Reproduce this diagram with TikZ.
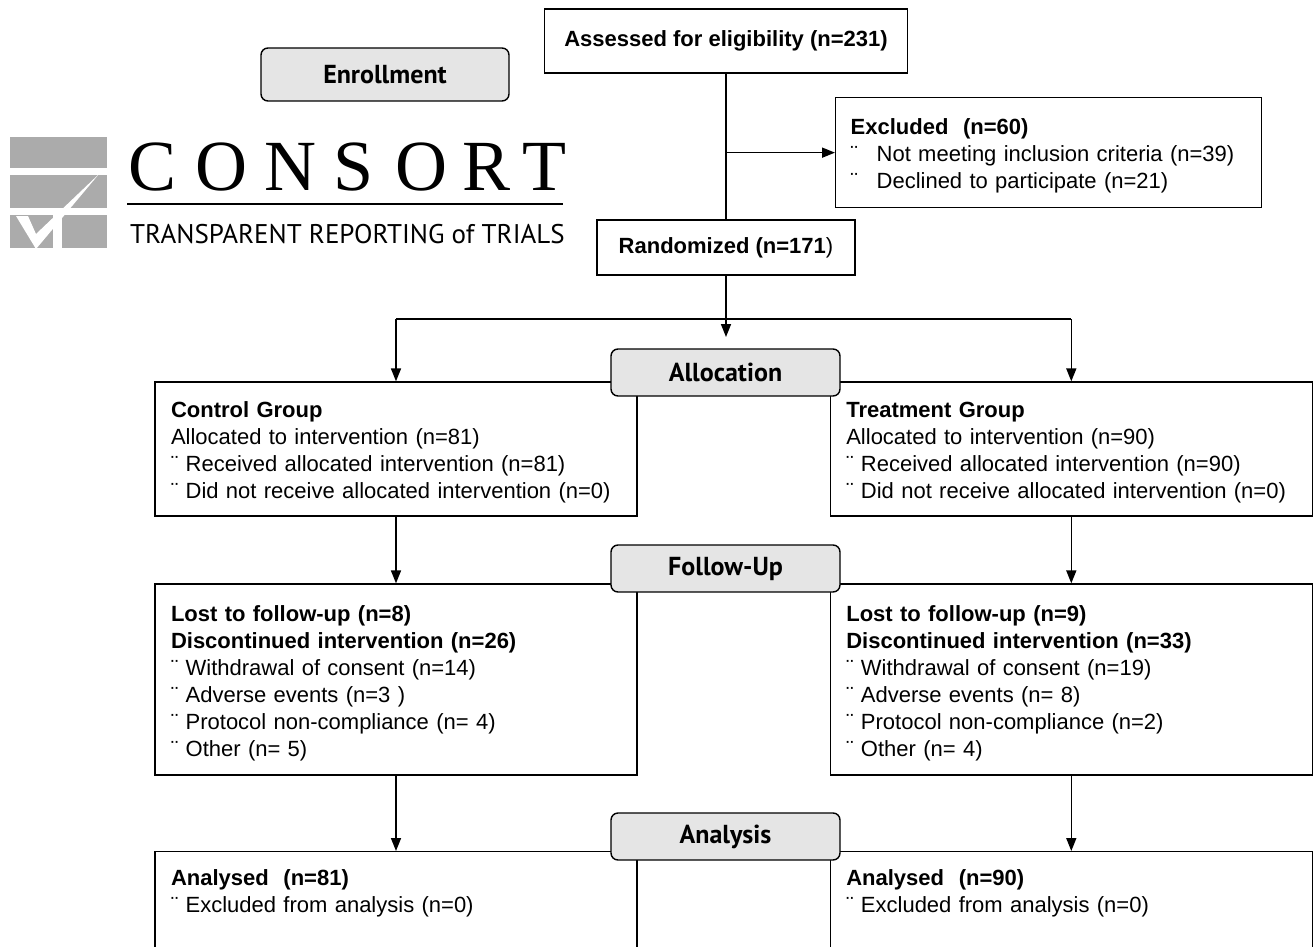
\documentclass[tikz,border=0pt]{standalone}
\usepackage{fontspec}
\setmainfont{Liberation Sans}
\newfontfamily\consortserif{Liberation Serif}
\newfontfamily\consortsans{PT Sans}
\usetikzlibrary{arrows.meta,positioning,shapes}

\begin{document}
\begin{tikzpicture}[x=1pt,y=-1pt,
    >={Triangle[length=13pt,width=10pt]},
    flowbox/.style={rectangle, draw, line width=1.3pt, align=center,
      font=\fontsize{22}{27}\selectfont\bfseries},
    groupbox/.style={rectangle, draw, line width=1.3pt, align=left,
      text width=450pt, inner xsep=16pt, inner ysep=4pt, minimum height=134pt,
      font=\fontsize{22}{27}\selectfont, execute at begin node={\rule{0pt}{23pt}}},
    stage/.style={rectangle, rounded corners=7pt, draw, line width=1.4pt,
      fill=gray!20, minimum width=229pt, minimum height=47pt,
      font=\consortsans\fontsize{26}{30}\selectfont\bfseries},
    link/.style={line width=1.6pt},
    flow/.style={->, line width=1.6pt}]
          \useasboundingbox (0,0) rectangle (1314,947);
          \clip (0,0) rectangle (1314,947);

          % logo
          \fill[black!33] (10,137) rectangle (107,168);
          \fill[black!33] (10,175) rectangle (107,208);
          \fill[black!33] (10,215) rectangle (53,248);
          \fill[black!33] (62,215) rectangle (107,248);
          \fill[white] (16,216) -- (28,216) -- (36,234) -- (99,174) -- (36,249) -- cycle;
          \foreach \ltr/\xc [count=\i] in {C/153,O/221,N/290,S/354,O/421,R/487,T/544}
            \node[anchor=base, inner sep=0pt, font=\consortserif\fontsize{72}{72}\selectfont] (letter\i) at (\xc,190) {\ltr};
          \draw[line width=1.5pt] (127,204) -- (563,204);
          \node[anchor=base west, inner sep=0pt, font=\consortsans\fontsize{27}{30}\selectfont] (tagline) at (130,243) {TRANSPARENT REPORTING of TRIALS};

          % enrollment
          \node[stage, minimum width=248pt, minimum height=53pt] (enroll) at (385,74.5) {Enrollment};
          \node[flowbox, minimum width=363pt, minimum height=64pt] (assess) at (726,41) {Assessed for eligibility (n=231)};
          \node[groupbox, text width=396pt, inner xsep=15pt, minimum height=110pt, anchor=north west,
                execute at begin node={}] (excl) at (835,97)
            {\textbf{Excluded~~(n=60)}\\
             \makebox[26pt][l]{¨}Not meeting inclusion criteria (n=39)\\
             \makebox[26pt][l]{¨}Declined to participate (n=21)};
          \node[flowbox, minimum width=258pt, minimum height=55pt] (rand) at (726,247.5) {Randomized (n=171{\mdseries)}};

          % allocation
          \node[groupbox] (ctrl) at (396,449)
            {\textbf{Control Group}\\
             Allocated to intervention (n=81)\\
             ¨ Received allocated intervention (n=81)\\
             ¨ Did not receive allocated intervention (n=0)};
          \node[groupbox, right=192pt of ctrl] (treat)
            {\textbf{Treatment Group}\\
             Allocated to intervention (n=90)\\
             ¨ Received allocated intervention (n=90)\\
             ¨ Did not receive allocated intervention (n=0)};

          % follow-up
          \node[groupbox, minimum height=191pt] (lostc) at (396,679.5)
            {\textbf{Lost to follow-up (n=8)}\\
             \textbf{Discontinued intervention (n=26)}\\
             ¨ Withdrawal of consent (n=14)\\
             ¨ Adverse events (n=3 )\\
             ¨ Protocol non-compliance (n= 4)\\
             ¨ Other (n= 5)};
          \node[groupbox, minimum height=191pt, right=192pt of lostc] (lostt)
            {\textbf{Lost to follow-up (n=9)}\\
             \textbf{Discontinued intervention (n=33)}\\
             ¨ Withdrawal of consent (n=19)\\
             ¨ Adverse events (n= 8)\\
             ¨ Protocol non-compliance (n=2)\\
             ¨ Other (n= 4)};

          % analysis
          \node[groupbox, minimum height=0pt, inner ysep=11pt, text depth=150pt, anchor=north] (anac) at (396,851)
            {\textbf{Analysed~~(n=81)}\\
             ¨ Excluded from analysis (n=0)};
          \node[groupbox, minimum height=0pt, inner ysep=11pt, text depth=150pt, right=192pt of anac] (anat)
            {\textbf{Analysed~~(n=90)}\\
             ¨ Excluded from analysis (n=0)};

          \node[stage] (alloc) at (725.5,372.5) {Allocation};
          \node[stage] (follow) at (725.5,568.5) {Follow-Up};
          \node[stage] (analysis) at (725.5,836.5) {Analysis};

          \coordinate (split) at (726,319);
          \coordinate (splittip) at (726,337);
          \draw[link] (assess.south) -- (rand.north);
          \draw[flow] (assess.south |- excl.west) -- (excl.west);
          \draw[flow] (rand.south) -- (splittip);
          \draw[link] (split -| ctrl.north) -- (split -| treat.north);
          \draw[flow] (split -| ctrl.north) -- (ctrl.north);
          \draw[flow] (split -| treat.north) -- (treat.north);
          \draw[flow] (ctrl.south) -- (lostc.north);
          \draw[flow] (treat.south) -- (lostt.north);
          \draw[flow] (lostc.south) -- (anac.north);
          \draw[flow] (lostt.south) -- (anat.north);
        \end{tikzpicture}
\end{document}
